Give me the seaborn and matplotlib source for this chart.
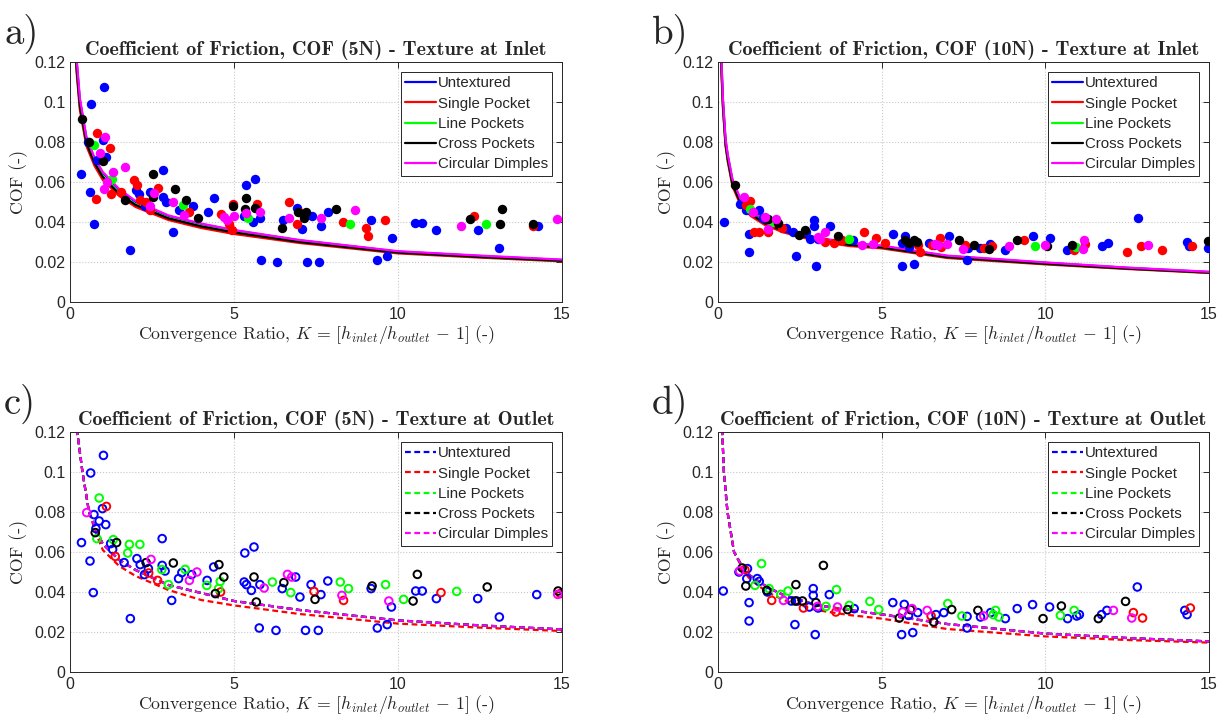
import numpy as np
import pandas as pd
import matplotlib
matplotlib.use("Agg")
import matplotlib.pyplot as plt
import seaborn as sns
from matplotlib.lines import Line2D

# ---------------- data ----------------
series_names = ["Untextured", "Single Pocket", "Line Pockets", "Cross Pockets", "Circular Dimples"]
series_colors = ["#0000ff", "#ff0000", "#00ff00", "#000000", "#ff00ff"]

x_ticks = [0, 5, 10, 15]
y_ticks = [0, 0.02, 0.04, 0.06, 0.08, 0.1, 0.12]
y_tick_labels = ["0", "0.02", "0.04", "0.06", "0.08", "0.1", "0.12"]

titles = ["Coefficient of Friction, COF (5N) - Texture at Inlet",
          "Coefficient of Friction, COF (10N) - Texture at Inlet",
          "Coefficient of Friction, COF (5N) - Texture at Outlet",
          "Coefficient of Friction, COF (10N) - Texture at Outlet"]
panel_tags = ["a)", "b)", "c)", "d)"]

# Panel a (5N, inlet) measurements
a_blue_k = [0.35, 0.64, 1.05, 0.62, 0.72, 0.56, 1.0, 0.81, 1.1, 1.84, 2.0, 2.1, 2.3, 2.43, 2.84, 2.84, 2.93, 3.13, 3.33, 3.75, 4.2, 4.4, 5.36, 5.65, 5.29, 5.59, 5.8, 5.81, 6.31, 6.5, 6.93, 7.07, 7.22, 7.38, 7.6, 7.65, 7.88, 9.18, 9.36, 9.67, 9.82, 10.53, 10.74, 11.17, 12.43, 13.09, 14.26]
a_blue_cof = [0.064, 0.099, 0.1075, 0.055, 0.039, 0.080, 0.081, 0.071, 0.0725, 0.026, 0.056, 0.054, 0.048, 0.055, 0.066, 0.0525, 0.050, 0.035, 0.046, 0.048, 0.045, 0.052, 0.0587, 0.0617, 0.043, 0.040, 0.042, 0.0208, 0.020, 0.041, 0.047, 0.0367, 0.020, 0.043, 0.020, 0.038, 0.045, 0.041, 0.0208, 0.0228, 0.032, 0.0397, 0.0397, 0.0358, 0.0358, 0.027, 0.038]
a_red_k = [0.82, 1.22, 0.79, 1.25, 1.56, 1.94, 2.05, 2.13, 2.33, 2.43, 2.67, 3.64, 4.59, 4.97, 4.85, 4.95, 5.69, 6.69, 6.92, 6.97, 8.32, 9.03, 9.08, 9.61, 12.32, 14.11]
a_red_cof = [0.0847, 0.077, 0.0517, 0.054, 0.055, 0.061, 0.0587, 0.051, 0.050, 0.046, 0.057, 0.045, 0.044, 0.049, 0.039, 0.036, 0.049, 0.050, 0.039, 0.045, 0.040, 0.037, 0.033, 0.041, 0.043, 0.038]
a_green_k = [0.72, 1.27, 3.46, 5.44, 8.55, 12.67]
a_green_cof = [0.0787, 0.0617, 0.0487, 0.042, 0.039, 0.0388]
a_black_k = [0.38, 0.59, 1.02, 1.69, 2.54, 2.54, 3.2, 3.53, 3.89, 4.98, 5.36, 5.34, 5.64, 6.47, 6.95, 7.18, 7.14, 8.11, 12.19, 13.18, 13.11, 14.13]
a_black_cof = [0.0917, 0.080, 0.0705, 0.051, 0.064, 0.0525, 0.0563, 0.051, 0.042, 0.048, 0.052, 0.0467, 0.047, 0.037, 0.045, 0.045, 0.042, 0.0467, 0.0417, 0.0467, 0.0388, 0.039]
a_magenta_k = [1.08, 0.92, 1.3, 1.13, 1.05, 1.68, 2.56, 2.43, 3.15, 3.49, 4.71, 5.0, 4.79, 5.36, 5.79, 6.69, 7.65, 8.69, 11.92, 14.85]
a_magenta_cof = [0.0825, 0.0745, 0.065, 0.060, 0.0567, 0.0675, 0.0547, 0.048, 0.050, 0.0433, 0.0425, 0.043, 0.041, 0.0447, 0.045, 0.042, 0.042, 0.0458, 0.038, 0.0417]

# Panel b (10N, inlet) measurements
b_blue_k = [0.17, 0.66, 0.95, 0.95, 0.87, 1.26, 1.38, 2.09, 2.3, 2.38, 2.7, 2.81, 2.93, 2.93, 2.99, 3.06, 3.42, 4.13, 5.34, 5.61, 5.71, 5.63, 5.84, 5.99, 6.46, 6.6, 7.06, 7.6, 7.65, 8.0, 8.31, 8.77, 9.61, 10.15, 10.67, 11.74, 11.9, 12.82, 14.32, 14.39, 14.97]
b_blue_cof = [0.040, 0.0488, 0.0338, 0.025, 0.0458, 0.0462, 0.042, 0.037, 0.035, 0.023, 0.035, 0.0313, 0.0412, 0.038, 0.018, 0.0317, 0.0378, 0.031, 0.0338, 0.018, 0.033, 0.0297, 0.0275, 0.0188, 0.0297, 0.0283, 0.0328, 0.0208, 0.027, 0.027, 0.029, 0.0258, 0.033, 0.032, 0.0258, 0.028, 0.0297, 0.042, 0.030, 0.0278, 0.027]
b_red_k = [0.97, 0.87, 1.1, 1.24, 1.53, 1.63, 1.97, 3.27, 3.54, 3.78, 4.46, 4.83, 5.1, 6.12, 6.17, 6.53, 6.79, 6.81, 7.55, 8.14, 8.36, 9.36, 10.87, 11.21, 12.51, 12.92, 13.56, 14.48]
b_red_cof = [0.0505, 0.0483, 0.035, 0.035, 0.035, 0.039, 0.037, 0.030, 0.0297, 0.031, 0.035, 0.032, 0.0297, 0.0287, 0.025, 0.0287, 0.032, 0.0275, 0.0283, 0.027, 0.028, 0.0312, 0.0258, 0.0292, 0.025, 0.028, 0.0262, 0.028]
b_green_k = [0.99, 1.66, 4.01, 9.69, 10.95]
b_green_cof = [0.0467, 0.040, 0.0313, 0.028, 0.0275]
b_black_k = [0.51, 1.53, 1.84, 2.48, 2.65, 3.67, 5.71, 5.85, 5.99, 6.07, 7.35, 7.83, 8.28, 9.13, 10.05, 10.82, 14.97]
b_black_cof = [0.0583, 0.0417, 0.0395, 0.0337, 0.0358, 0.0328, 0.0308, 0.0295, 0.0308, 0.030, 0.0312, 0.0283, 0.0263, 0.0312, 0.028, 0.0287, 0.0305]
b_magenta_k = [0.8, 1.07, 1.43, 1.53, 1.77, 3.04, 3.27, 3.11, 4.39, 4.74, 6.63, 6.73, 6.99, 7.47, 8.89, 10.0, 11.18, 11.15, 13.15]
b_magenta_cof = [0.0525, 0.045, 0.0425, 0.0367, 0.0413, 0.0325, 0.035, 0.0317, 0.0287, 0.0292, 0.0292, 0.0283, 0.0288, 0.0267, 0.028, 0.0287, 0.0308, 0.0267, 0.0287]

# Panel c (5N, outlet) measurements
c_blue_k = [0.35, 0.63, 1.02, 0.61, 0.71, 0.73, 0.89, 0.79, 0.99, 1.09, 1.24, 1.3, 1.65, 2.04, 2.14, 2.27, 1.84, 2.39, 2.81, 2.81, 2.9, 3.1, 3.31, 3.41, 3.71, 4.18, 4.38, 5.33, 5.61, 5.31, 5.38, 5.53, 5.79, 5.77, 6.28, 6.47, 6.88, 7.01, 7.18, 7.35, 7.57, 7.65, 7.86, 9.18, 9.37, 9.67, 9.8, 10.54, 10.74, 11.17, 12.43, 13.09, 14.23]
c_blue_cof = [0.0647, 0.0995, 0.1083, 0.0555, 0.0397, 0.0787, 0.0755, 0.0717, 0.0817, 0.0737, 0.0642, 0.0613, 0.0547, 0.0567, 0.0537, 0.0487, 0.0267, 0.0517, 0.0667, 0.0533, 0.0505, 0.0358, 0.0467, 0.0497, 0.0487, 0.0458, 0.0525, 0.0595, 0.0625, 0.045, 0.0437, 0.0408, 0.0437, 0.022, 0.0208, 0.0417, 0.0475, 0.0375, 0.0208, 0.0437, 0.0208, 0.0387, 0.0455, 0.0417, 0.022, 0.0237, 0.0325, 0.0405, 0.0405, 0.0367, 0.0367, 0.0275, 0.0387]
c_red_k = [1.11, 1.38, 2.4, 2.67, 4.59, 7.44, 8.34, 11.31, 14.95]
c_red_cof = [0.0828, 0.0578, 0.0495, 0.0458, 0.040, 0.0403, 0.0358, 0.0397, 0.0392]
c_green_k = [0.89, 0.82, 1.32, 1.76, 1.81, 2.13, 2.8, 3.0, 3.51, 4.17, 4.58, 4.53, 6.17, 6.73, 8.24, 8.49, 9.62, 10.17, 11.79]
c_green_cof = [0.087, 0.0667, 0.0662, 0.0595, 0.0638, 0.0638, 0.0512, 0.0437, 0.0513, 0.0433, 0.0453, 0.0417, 0.045, 0.0397, 0.045, 0.0417, 0.0437, 0.0363, 0.0403]
c_black_k = [0.77, 1.42, 2.32, 3.15, 4.43, 4.54, 4.69, 5.61, 5.68, 6.52, 7.47, 9.21, 10.59, 10.46, 12.72, 14.88]
c_black_cof = [0.0697, 0.0647, 0.0547, 0.0545, 0.0392, 0.0537, 0.0475, 0.0475, 0.035, 0.0447, 0.0363, 0.043, 0.0488, 0.0355, 0.0425, 0.0405]
c_magenta_k = [0.51, 2.47, 3.64, 3.87, 5.92, 6.63, 6.76, 8.29, 9.72, 14.87]
c_magenta_cof = [0.0797, 0.0563, 0.0458, 0.050, 0.042, 0.0488, 0.0475, 0.0383, 0.0355, 0.0388]

# Panel d (10N, outlet) measurements
d_blue_k = [0.16, 0.64, 0.9, 0.88, 0.95, 0.95, 1.2, 1.26, 1.51, 2.24, 2.41, 2.35, 2.79, 2.91, 2.91, 2.97, 3.06, 3.4, 4.16, 5.34, 5.61, 5.69, 5.82, 5.95, 6.1, 6.66, 6.9, 7.61, 7.61, 8.02, 8.33, 8.78, 9.14, 9.61, 10.13, 10.68, 10.96, 11.04, 11.72, 11.88, 12.81, 14.26, 14.33]
d_blue_cof = [0.0405, 0.050, 0.0517, 0.0467, 0.0347, 0.0255, 0.0467, 0.0453, 0.040, 0.0355, 0.0355, 0.0237, 0.0325, 0.0417, 0.0383, 0.0187, 0.032, 0.0387, 0.0317, 0.0347, 0.0187, 0.0338, 0.0283, 0.0197, 0.0297, 0.0287, 0.0297, 0.0278, 0.022, 0.0275, 0.0297, 0.0267, 0.0317, 0.0337, 0.0325, 0.0267, 0.028, 0.0287, 0.0287, 0.0308, 0.0425, 0.0308, 0.0287]
d_red_k = [0.82, 1.64, 2.61, 3.6, 6.51, 12.69, 12.97, 14.43]
d_red_cof = [0.0512, 0.0358, 0.032, 0.030, 0.028, 0.0297, 0.027, 0.032]
d_green_k = [1.33, 1.13, 1.56, 1.92, 2.14, 3.3, 3.62, 4.01, 4.64, 4.91, 7.02, 7.45, 8.41, 8.48, 8.58, 10.46, 10.88]
d_green_cof = [0.0542, 0.0433, 0.0417, 0.0388, 0.0405, 0.0328, 0.0412, 0.0333, 0.0353, 0.0312, 0.0342, 0.028, 0.0287, 0.0308, 0.0275, 0.0283, 0.0308]
d_black_k = [0.74, 0.85, 1.49, 2.38, 2.36, 2.58, 2.99, 3.22, 3.96, 5.54, 5.88, 6.59, 7.14, 7.94, 9.93, 10.49, 11.62, 12.45]
d_black_cof = [0.052, 0.043, 0.0408, 0.0437, 0.0355, 0.0355, 0.0347, 0.0533, 0.0312, 0.027, 0.0312, 0.025, 0.0312, 0.0308, 0.0267, 0.033, 0.0267, 0.0353]
d_magenta_k = [0.66, 2.0, 3.04, 3.65, 5.64, 5.93, 6.39, 8.12, 12.08, 12.64]
d_magenta_cof = [0.0505, 0.0358, 0.0328, 0.0325, 0.030, 0.0317, 0.0308, 0.028, 0.0308, 0.027]

# Model curves
a_curve_k = [0.15, 0.2, 0.3, 0.5, 0.75, 1.0, 1.5, 2.0, 3.0, 4.0, 5.0, 7.0, 10.0, 12.5, 15.0]
a_curve_blue = [0.138, 0.121, 0.101, 0.082, 0.0715, 0.0645, 0.056, 0.050, 0.043, 0.039, 0.0358, 0.0308, 0.0252, 0.023, 0.021]
a_curve_red = [0.132, 0.115, 0.096, 0.078, 0.068, 0.061, 0.053, 0.0475, 0.041, 0.037, 0.034, 0.0295, 0.0243, 0.0222, 0.0203]
a_curve_green = [0.135, 0.118, 0.099, 0.080, 0.070, 0.063, 0.0545, 0.0488, 0.042, 0.038, 0.035, 0.0302, 0.0248, 0.0226, 0.0206]
a_curve_black = [0.134, 0.117, 0.098, 0.0795, 0.0695, 0.0625, 0.054, 0.0485, 0.0418, 0.0378, 0.0348, 0.030, 0.0247, 0.0225, 0.0206]
a_curve_magenta = [0.139, 0.122, 0.102, 0.0825, 0.072, 0.065, 0.0565, 0.0505, 0.0433, 0.0392, 0.036, 0.031, 0.0254, 0.0232, 0.0212]

b_curve_k = [0.08, 0.1, 0.15, 0.23, 0.3, 0.44, 0.7, 1.0, 1.43, 2.0, 3.0, 4.0, 5.0, 7.0, 10.0, 12.5, 15.0]
b_curve_blue = [0.135, 0.122, 0.101, 0.081, 0.073, 0.061, 0.0505, 0.0455, 0.0405, 0.0365, 0.032, 0.0295, 0.028, 0.023, 0.0196, 0.0171, 0.015]
b_curve_red = [0.13, 0.117, 0.097, 0.078, 0.070, 0.058, 0.048, 0.043, 0.0385, 0.0348, 0.0305, 0.028, 0.0268, 0.022, 0.0188, 0.0165, 0.0145]
b_curve_green = [0.133, 0.120, 0.099, 0.0795, 0.0715, 0.0595, 0.0493, 0.0443, 0.0395, 0.0357, 0.0313, 0.0288, 0.0274, 0.0225, 0.0192, 0.0168, 0.0148]
b_curve_black = [0.132, 0.119, 0.0985, 0.079, 0.071, 0.059, 0.049, 0.044, 0.0393, 0.0355, 0.0311, 0.0286, 0.0273, 0.0224, 0.0191, 0.0167, 0.0147]
b_curve_magenta = [0.136, 0.123, 0.102, 0.0815, 0.0735, 0.0615, 0.051, 0.046, 0.041, 0.0368, 0.0323, 0.0297, 0.0282, 0.0232, 0.0198, 0.0172, 0.0151]

c_curve_k = [0.15, 0.22, 0.38, 0.58, 0.8, 1.0, 1.5, 2.0, 3.0, 4.0, 5.0, 7.0, 10.0, 12.5, 15.0]
c_curve_red = [0.14, 0.12, 0.10, 0.08, 0.069, 0.061, 0.053, 0.048, 0.041, 0.036, 0.0333, 0.029, 0.0242, 0.0222, 0.0205]
c_curve_other = [0.14, 0.12, 0.10, 0.08, 0.071, 0.064, 0.056, 0.051, 0.0435, 0.0395, 0.0355, 0.031, 0.0258, 0.0233, 0.0213]

d_curve_k = [0.1, 0.13, 0.18, 0.29, 0.49, 0.8, 1.0, 1.5, 2.0, 3.0, 4.0, 5.0, 7.0, 10.0, 12.5, 15.0]
d_curve_red = [0.14, 0.12, 0.10, 0.08, 0.06, 0.05, 0.046, 0.04, 0.036, 0.031, 0.0285, 0.0267, 0.0215, 0.0178, 0.016, 0.0147]
d_curve_other = [0.14, 0.12, 0.10, 0.08, 0.06, 0.051, 0.048, 0.0425, 0.0385, 0.0335, 0.031, 0.0288, 0.024, 0.0192, 0.017, 0.0153]

# ---------------- assemble ----------------
panels = [
    dict(points=[(a_blue_k, a_blue_cof), (a_red_k, a_red_cof), (a_green_k, a_green_cof), (a_black_k, a_black_cof), (a_magenta_k, a_magenta_cof)],
         curves=[(a_curve_k, a_curve_blue), (a_curve_k, a_curve_red), (a_curve_k, a_curve_green), (a_curve_k, a_curve_black), (a_curve_k, a_curve_magenta)],
         filled=True),
    dict(points=[(b_blue_k, b_blue_cof), (b_red_k, b_red_cof), (b_green_k, b_green_cof), (b_black_k, b_black_cof), (b_magenta_k, b_magenta_cof)],
         curves=[(b_curve_k, b_curve_blue), (b_curve_k, b_curve_red), (b_curve_k, b_curve_green), (b_curve_k, b_curve_black), (b_curve_k, b_curve_magenta)],
         filled=True),
    dict(points=[(c_blue_k, c_blue_cof), (c_red_k, c_red_cof), (c_green_k, c_green_cof), (c_black_k, c_black_cof), (c_magenta_k, c_magenta_cof)],
         curves=[(c_curve_k, c_curve_other), (c_curve_k, c_curve_red), (c_curve_k, c_curve_other), (c_curve_k, c_curve_other), (c_curve_k, c_curve_other)],
         filled=False),
    dict(points=[(d_blue_k, d_blue_cof), (d_red_k, d_red_cof), (d_green_k, d_green_cof), (d_black_k, d_black_cof), (d_magenta_k, d_magenta_cof)],
         curves=[(d_curve_k, d_curve_other), (d_curve_k, d_curve_red), (d_curve_k, d_curve_other), (d_curve_k, d_curve_other), (d_curve_k, d_curve_other)],
         filled=False),
]

# ---------------- style ----------------
sns.set_style("white")
plt.rcParams["mathtext.fontset"] = "cm"
plt.rcParams["font.family"] = ["Liberation Sans", "DejaVu Sans"]
plt.rcParams["axes.formatter.use_mathtext"] = True

fig = plt.figure(figsize=(12.28, 7.26), dpi=100)
fig.patch.set_facecolor("white")

positions = [
    [70 / 1228, 1 - 302 / 726, 492 / 1228, 240 / 726],
    [718 / 1228, 1 - 302 / 726, 491 / 1228, 240 / 726],
    [70 / 1228, 1 - 672 / 726, 492 / 1228, 240 / 726],
    [718 / 1228, 1 - 672 / 726, 491 / 1228, 240 / 726],
]
tag_pos = [(4 / 1228, 1 - 44 / 726), (652 / 1228, 1 - 44 / 726),
           (4 / 1228, 1 - 414 / 726), (652 / 1228, 1 - 414 / 726)]

for i, p in enumerate(panels):
    ax = fig.add_axes(positions[i])
    ls = "-" if p["filled"] else (0, (2.6, 1.6))
    handles = []
    for j, (ck, cv) in enumerate(p["curves"]):
        df = pd.DataFrame({"K": ck, "COF": cv})
        sns.lineplot(data=df, x="K", y="COF", ax=ax, color=series_colors[j], lw=1.6,
                     linestyle=ls, sort=False, estimator=None, legend=False, zorder=2)
        handles.append(Line2D([0], [0], color=series_colors[j], lw=1.6, linestyle=ls))
    for j, (pk, pv) in enumerate(p["points"]):
        df = pd.DataFrame({"K": pk, "COF": pv})
        if p["filled"]:
            sns.scatterplot(data=df, x="K", y="COF", ax=ax, color=series_colors[j], s=46,
                            linewidth=0, edgecolor=series_colors[j], zorder=3, legend=False)
        else:
            sns.scatterplot(data=df, x="K", y="COF", ax=ax, color=series_colors[j], s=30,
                            zorder=3, legend=False)
            coll = ax.collections[-1]
            coll.set_facecolor("none")
            coll.set_edgecolor(series_colors[j])
            coll.set_linewidth(1.4)
    ax.set_xlim(0, 15)
    ax.set_ylim(0, 0.12)
    ax.set_xticks(x_ticks)
    ax.set_xticklabels([str(t) for t in x_ticks])
    ax.set_yticks(y_ticks)
    ax.set_yticklabels(y_tick_labels)
    ax.grid(True, linestyle=":", color="#c8c8c8", linewidth=0.8)
    ax.tick_params(direction="in", length=4, width=0.7, top=True, right=True,
                   labelsize=11.5, colors="#262626", pad=3.5)
    for sp in ax.spines.values():
        sp.set_color("#262626")
        sp.set_linewidth(0.7)
    ax.set_xlabel(r"Convergence Ratio, $K\,=\,[h_{inlet}/h_{outlet}\,-\,1]$ (-)",
                  fontfamily="cmr10", fontsize=12.8, labelpad=1)
    ax.set_ylabel("COF (-)", fontfamily="cmr10", fontsize=12.8, labelpad=4)
    ax.set_title(titles[i], fontfamily="cmb10", fontsize=14.5, pad=5)
    leg = ax.legend(handles=handles, labels=series_names, loc="upper right",
                    fontsize=10.8, frameon=True, fancybox=False, framealpha=1,
                    edgecolor="#262626", handlelength=2.05, handletextpad=0.1,
                    labelspacing=0.42, borderpad=0.3, borderaxespad=0.65)
    leg.get_frame().set_linewidth(0.7)
    fig.text(tag_pos[i][0], tag_pos[i][1], panel_tags[i], fontfamily="cmr10",
             fontsize=28, ha="left", va="baseline")

fig.savefig("out.png", dpi=100, facecolor="white")
